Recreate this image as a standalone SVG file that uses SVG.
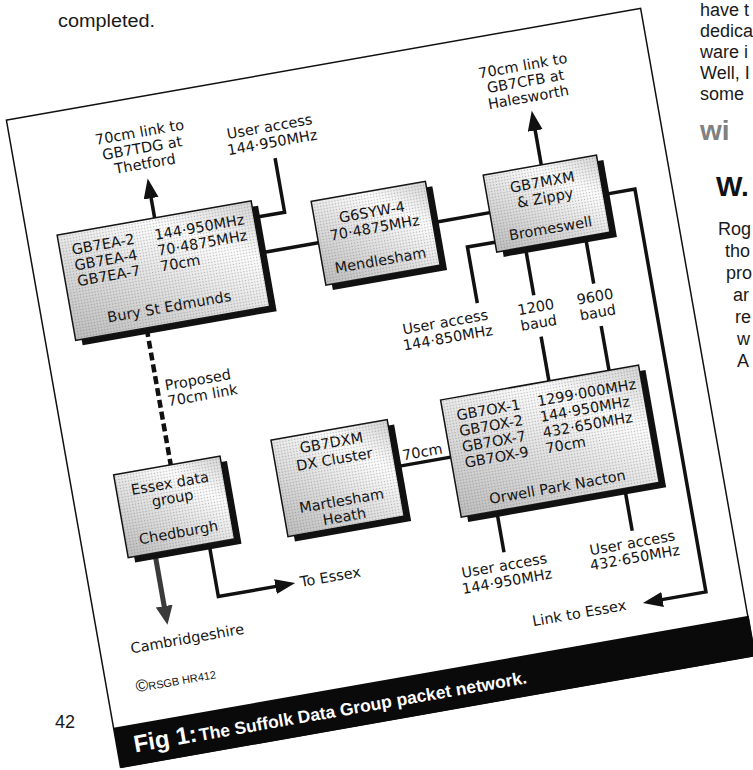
<svg xmlns="http://www.w3.org/2000/svg" width="753" height="770" viewBox="0 0 753 770">
<defs>
  <linearGradient id="shade" x1="0" y1="1" x2="1" y2="0">
    <stop offset="0" stop-color="#bdbdbd"/>
    <stop offset="0.45" stop-color="#e4e4e4"/>
    <stop offset="0.72" stop-color="#ffffff"/>
    <stop offset="1" stop-color="#d4d4d4"/>
  </linearGradient>
  <pattern id="dots" width="3" height="3" patternUnits="userSpaceOnUse">
    <circle cx="1.5" cy="1.5" r="0.75" fill="#666" fill-opacity="0.45"/>
  </pattern>
  <marker id="ah" markerUnits="userSpaceOnUse" markerWidth="22" markerHeight="16" refX="8" refY="7.5" orient="auto">
    <path d="M0,0 L20,7.5 L0,15 z" fill="#111"/>
  </marker>
  <marker id="ahg" markerUnits="userSpaceOnUse" markerWidth="22" markerHeight="18" refX="7" refY="8.5" orient="auto">
    <path d="M0,0 L19,8.5 L0,17 z" fill="#3a3a3a"/>
  </marker>
</defs>
<style>
  .t { font-family: "DejaVu Sans", "Liberation Sans", sans-serif; font-size: 14.5px; fill: #151515; }
  .m { text-anchor: middle; }
  .ln { stroke: #111; stroke-width: 3.5; fill: none; }
  .box { fill: url(#shade); stroke: #111; stroke-width: 1.5; }
  .dt { fill: url(#dots); }
  .sh { fill: #111; }
  .page { font-family: "Liberation Sans", Arial, sans-serif; font-size: 18px; fill: #1a1a1a; }
  .head { font-family: "Liberation Sans", Arial, sans-serif; font-weight: bold; font-size: 28px; }
</style>
<rect width="753" height="770" fill="#ffffff"/>

<!-- surrounding magazine page text -->
<g id="page-text">
  <text class="page" x="58" y="27" font-size="20" textLength="97" lengthAdjust="spacingAndGlyphs">completed.</text>
  <text class="page" x="700" y="16">have t</text>
  <text class="page" x="700" y="37" font-size="17">dedica</text>
  <text class="page" x="700" y="58">ware i</text>
  <text class="page" x="700" y="79" font-size="17">Well, I</text>
  <text class="page" x="700" y="100">some</text>
  <text class="head" x="700" y="140" fill="#808080">wi</text>
  <text class="head" x="716" y="196" fill="#111">W.</text>
  <text class="page" x="718" y="235" font-size="17">Rog</text>
  <text class="page" x="725" y="257">tho</text>
  <text class="page" x="726" y="279" font-size="17">pro</text>
  <text class="page" x="733" y="301">ar</text>
  <text class="page" x="735" y="323">re</text>
  <text class="page" x="737" y="345">w</text>
  <text class="page" x="737" y="367">A</text>
  <text class="page" x="55" y="728" font-size="19">42</text>
</g>

<g transform="rotate(-10 376 385)">
  <!-- frame and caption band -->
  <g id="frame">
    <rect x="58" y="60" width="644" height="657" fill="#fff" stroke="#111" stroke-width="1.5"/>
    <rect x="58" y="677" width="645" height="41" fill="#0a0a0a"/>
    <text x="75" y="705" fill="#fff" font-family="Liberation Sans, Arial, sans-serif" font-weight="bold"><tspan font-size="24">Fig 1:</tspan><tspan font-size="17.5" dx="2">The Suffolk Data Group packet network.</tspan></text>
    <text x="87" y="646" font-family="Liberation Sans, Arial, sans-serif" font-size="11" fill="#151515"><tspan font-size="17">©</tspan>RSGB HR412</text>
  </g>

  <!-- connectors -->
  <g id="connectors">
    <line class="ln" x1="187" y1="182" x2="187" y2="154" marker-end="url(#ah)"/>
    <polyline class="ln" points="285,199 316,199 316,144"/>
    <line class="ln" x1="285" y1="235" x2="344" y2="235"/>
    <line class="ln" x1="460" y1="235" x2="518" y2="235"/>
    <line class="ln" x1="577" y1="197" x2="577" y2="154" marker-end="url(#ah)"/>
    <polyline class="ln" points="633,237 665,237 665,646 613,646" marker-end="url(#ah)"/>
    <polyline class="ln" points="518,265 490,265 490,322"/>
    <line class="ln" x1="547" y1="275" x2="547" y2="324"/>
    <line class="ln" x1="547" y1="366" x2="547" y2="411"/>
    <line class="ln" x1="608" y1="275" x2="608" y2="323"/>
    <line class="ln" x1="608" y1="366" x2="608" y2="411"/>
    <line class="ln" x1="381" y1="469" x2="437" y2="469"/>
    <line class="ln" x1="473" y1="530" x2="473" y2="572"/>
    <line class="ln" x1="603" y1="530" x2="603" y2="573"/>
    <line x1="160" y1="290" x2="160" y2="428" stroke="#111" stroke-width="4.5" stroke-dasharray="8 4"/>
    <line x1="129" y1="512" x2="129" y2="573" stroke="#3a3a3a" stroke-width="5" marker-end="url(#ahg)"/>
    <polyline class="ln" points="184,512 184,566 250,566" marker-end="url(#ah)"/>

    <text class="t m" x="187" y="100">70cm link to</text>
    <text class="t m" x="187" y="116">GB7TDG at</text>
    <text class="t m" x="187" y="132">Thetford</text>
    <text class="t m" x="316" y="117">User access</text>
    <text class="t m" x="316" y="133">144·950MHz</text>
    <text class="t m" x="576" y="101">70cm link to</text>
    <text class="t m" x="576" y="117">GB7CFB at</text>
    <text class="t m" x="576" y="133">Halesworth</text>
    <text class="t m" x="455" y="340">User access</text>
    <text class="t m" x="455" y="356">144·850MHz</text>
    <text class="t m" x="547" y="341">1200</text>
    <text class="t m" x="547" y="357">baud</text>
    <text class="t m" x="607" y="341">9600</text>
    <text class="t m" x="607" y="357">baud</text>
    <text class="t" x="168" y="354">Proposed</text>
    <text class="t" x="168" y="370">70cm link</text>
    <text class="t m" x="410" y="464">70cm</text>
    <text class="t m" x="471" y="590">User access</text>
    <text class="t m" x="471" y="606">144·950MHz</text>
    <text class="t m" x="601" y="590">User access</text>
    <text class="t m" x="601" y="605">432·650MHz</text>
    <text class="t" x="489" y="650">Link to Essex</text>
    <text class="t" x="267" y="571">To Essex</text>
    <text class="t m" x="146" y="607">Cambridgeshire</text>
  </g>

  <!-- nodes -->
  <g id="node-bury">
    <rect class="sh" x="94" y="188" width="197" height="107"/>
    <rect class="box" x="88" y="182" width="197" height="107"/>
    <rect class="dt" x="88" y="182" width="197" height="107"/>
    <text class="t" x="100" y="204">GB7EA-2</text><text class="t" x="184" y="204">144·950MHz</text>
    <text class="t" x="100" y="220">GB7EA-4</text><text class="t" x="184" y="220">70·4875MHz</text>
    <text class="t" x="100" y="236">GB7EA-7</text><text class="t" x="184" y="236">70cm</text>
    <text class="t m" x="186" y="277">Bury St Edmunds</text>
  </g>
  <g id="node-mendlesham">
    <rect class="sh" x="350" y="199" width="116" height="85"/>
    <rect class="box" x="344" y="193" width="116" height="85"/>
    <rect class="dt" x="344" y="193" width="116" height="85"/>
    <text class="t m" x="402" y="219">G6SYW-4</text>
    <text class="t m" x="402" y="235">70·4875MHz</text>
    <text class="t m" x="402" y="268">Mendlesham</text>
  </g>
  <g id="node-bromeswell">
    <rect class="sh" x="524" y="203" width="115" height="78"/>
    <rect class="box" x="518" y="197" width="115" height="78"/>
    <rect class="dt" x="518" y="197" width="115" height="78"/>
    <text class="t m" x="575" y="219">GB7MXM</text>
    <text class="t m" x="575" y="235">&amp; Zippy</text>
    <text class="t m" x="575" y="266">Bromeswell</text>
  </g>
  <g id="node-essex">
    <rect class="sh" x="108" y="434" width="108" height="84"/>
    <rect class="box" x="102" y="428" width="108" height="84"/>
    <rect class="dt" x="102" y="428" width="108" height="84"/>
    <text class="t m" x="156" y="451">Essex data</text>
    <text class="t m" x="156" y="466">group</text>
    <text class="t m" x="156" y="501">Chedburgh</text>
  </g>
  <g id="node-dxcluster">
    <rect class="sh" x="269" y="427" width="118" height="98"/>
    <rect class="box" x="263" y="421" width="118" height="98"/>
    <rect class="dt" x="263" y="421" width="118" height="98"/>
    <text class="t m" x="322" y="439">GB7DXM</text>
    <text class="t m" x="322" y="456">DX Cluster</text>
    <text class="t m" x="322" y="498">Martlesham</text>
    <text class="t m" x="322" y="514">Heath</text>
  </g>
  <g id="node-orwell">
    <rect class="sh" x="443" y="417" width="201" height="119"/>
    <rect class="box" x="437" y="411" width="201" height="119"/>
    <rect class="dt" x="437" y="411" width="201" height="119"/>
    <text class="t" x="450" y="434">GB7OX-1</text><text class="t" x="532" y="434">1299·000MHz</text>
    <text class="t" x="450" y="450">GB7OX-2</text><text class="t" x="532" y="450">144·950MHz</text>
    <text class="t" x="450" y="466">GB7OX-7</text><text class="t" x="532" y="466">432·650MHz</text>
    <text class="t" x="450" y="482">GB7OX-9</text><text class="t" x="532" y="482">70cm</text>
    <text class="t m" x="537" y="522">Orwell Park Nacton</text>
  </g>
</g>
</svg>
